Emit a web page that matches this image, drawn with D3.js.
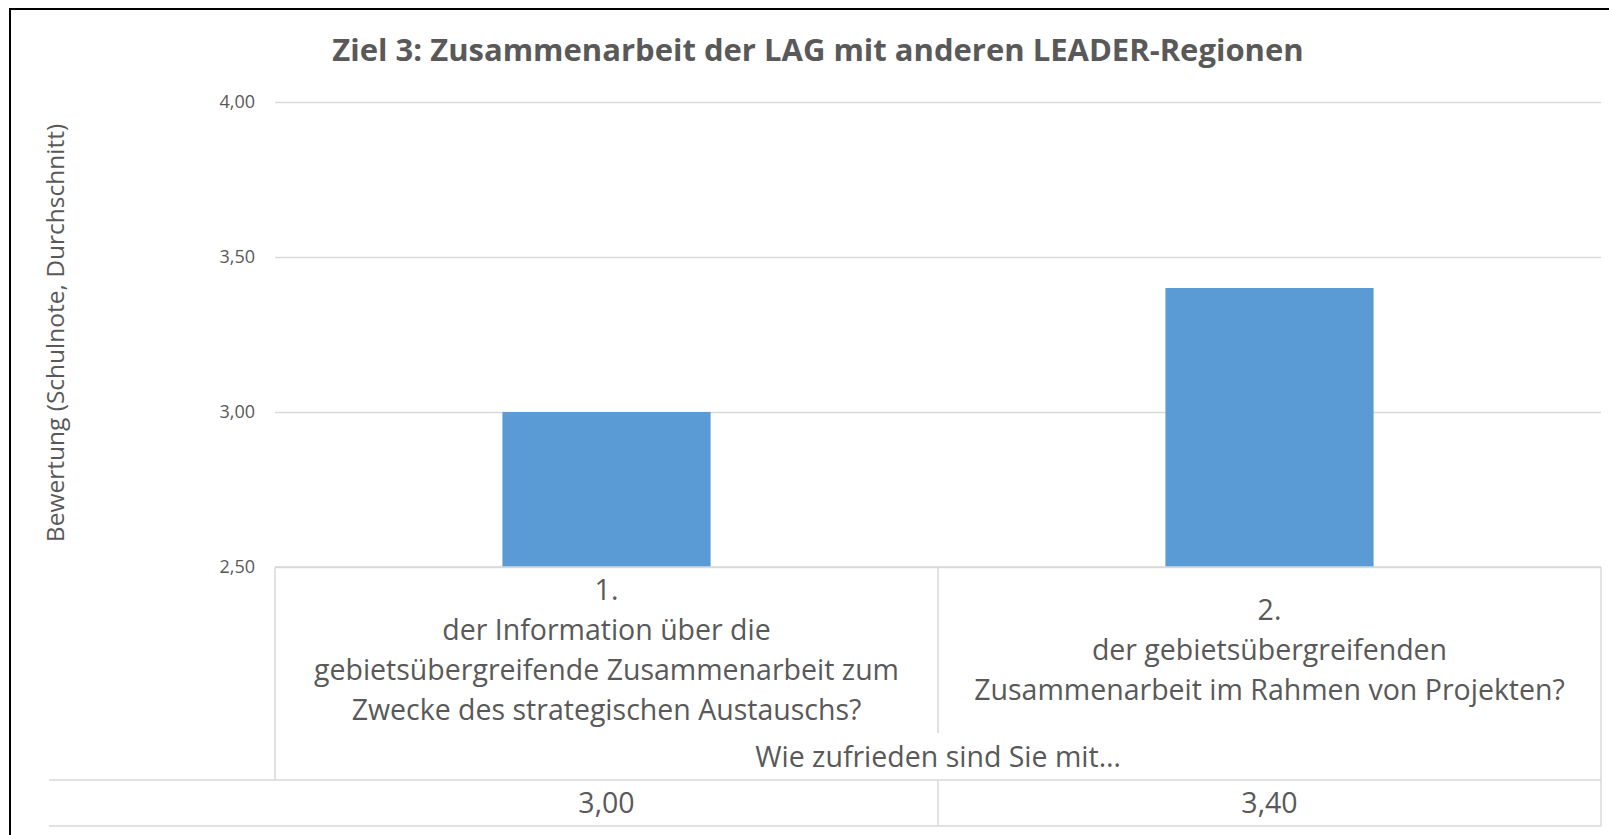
<!DOCTYPE html>
<html>
<head>
<meta charset="utf-8">
<script src="https://cdn.jsdelivr.net/npm/d3@7"></script>
<style>
  html, body { margin: 0; padding: 0; background: #fff; }
  svg { display: block; font-family: "Open Sans", sans-serif; }
</style>
</head>
<body>
<svg id="chart" width="1609" height="835"></svg>
<script>
// chart data
const chartTitle = "Ziel 3: Zusammenarbeit der LAG mit anderen LEADER-Regionen";
const yAxisTitle = "Bewertung (Schulnote, Durchschnitt)";
const groupTitle = "Wie zufrieden sind Sie mit\u2026";
const categories = ["1.", "2."];
const categoryLines = [
    ["1.", "der Information über die", "gebietsübergreifende Zusammenarbeit zum", "Zwecke des strategischen Austauschs?"],
    ["2.", "der gebietsübergreifenden", "Zusammenarbeit im Rahmen von Projekten?"]
];
const values = [3.00, 3.40];
const yTicks = [2.5, 3.0, 3.5, 4.0];

const textColor = "#595959", gridColor = "#d9d9d9", barColor = "#5b9bd5";

const svg = d3.select('#chart');
const plotLeft = 275, plotRight = 1601, plotTop = 102, plotBottom = 567;

// German number format (comma decimal)
const de = d3.formatLocale({ decimal: ",", thousands: ".", grouping: [3], currency: ["", " €"] });
const fmt = de.format(".2f");

const x = d3.scaleBand().domain(categories).range([plotLeft, plotRight]).padding(0);
const y = d3.scaleLinear().domain([2.5, 4]).range([plotBottom, plotTop]);
const barW = x.bandwidth() * 0.314;

// outer frame (left + top only, like the cropped screenshot)
svg.append('path').attr('d', 'M10,835 V9 H1609').attr('fill', 'none').attr('stroke', '#000').attr('stroke-width', 2);

// title
svg.append('text').attr('x', 818).attr('y', 61).attr('text-anchor', 'middle')
    .attr('font-size', 31).attr('font-weight', 700).attr('fill', textColor).text(chartTitle);

// y axis with gridlines
const yAxis = svg.append('g').attr('transform', `translate(${plotLeft},0)`)
    .call(d3.axisLeft(y).tickValues(yTicks).tickFormat(fmt).tickSize(-(plotRight - plotLeft)).tickPadding(20));
yAxis.select('.domain').remove();
yAxis.selectAll('.tick line').attr('stroke', gridColor).attr('stroke-width', 1.5);
yAxis.selectAll('.tick text').attr('fill', textColor).attr('font-size', 18).attr('font-family', '"Open Sans", sans-serif');

// y axis title
svg.append('text').attr('transform', 'translate(64,333) rotate(-90)')
    .attr('text-anchor', 'middle').attr('font-size', 24.5).attr('fill', textColor).text(yAxisTitle);

// bars
svg.selectAll('.bar').data(values).enter().append('rect')
    .attr('class', 'bar')
    .attr('x', (d, i) => x(categories[i]) + (x.bandwidth() - barW) / 2)
    .attr('y', d => y(d))
    .attr('width', barW)
    .attr('height', d => y(2.5) - y(d))
    .attr('fill', barColor);

// category / data table lines
const rowTop = 780, rowBottom = 826, labelBottom = 733;
const lines = [
    [plotLeft, plotBottom, plotRight, plotBottom],
    [49, rowTop, plotRight, rowTop],
    [49, rowBottom, plotRight, rowBottom],
    [plotLeft, plotBottom, plotLeft, rowTop],
    [plotRight, plotBottom, plotRight, rowBottom],
    [x(categories[1]), plotBottom, x(categories[1]), labelBottom],
    [x(categories[1]), rowTop, x(categories[1]), rowBottom]
];
svg.append('g').selectAll('line').data(lines).enter().append('line')
    .attr('x1', d => d[0]).attr('y1', d => d[1]).attr('x2', d => d[2]).attr('y2', d => d[3])
    .attr('stroke', gridColor).attr('stroke-width', 1.5);

// category labels, vertically centred in the label area
const lineH = 40, labelMid = 650;
categoryLines.forEach((ls, i) => {
    const cx = x(categories[i]) + x.bandwidth() / 2;
    const startY = labelMid - (ls.length - 1) * lineH / 2;
    svg.append('g').selectAll('text').data(ls).enter().append('text')
        .attr('x', cx).attr('y', (d, j) => startY + j * lineH).attr('dy', '0.35em')
        .attr('text-anchor', 'middle').attr('font-size', 28.5).attr('fill', textColor)
        .text(d => d);
});

// group label
svg.append('text').attr('x', (plotLeft + plotRight) / 2).attr('y', 757).attr('dy', '0.35em')
    .attr('text-anchor', 'middle').attr('font-size', 28.5).attr('fill', textColor).text(groupTitle);

// data table values
svg.selectAll('.val').data(values).enter().append('text')
    .attr('class', 'val')
    .attr('x', (d, i) => x(categories[i]) + x.bandwidth() / 2)
    .attr('y', 803).attr('dy', '0.35em')
    .attr('text-anchor', 'middle').attr('font-size', 28.5).attr('fill', textColor)
    .text(d => fmt(d));
</script>
</body>
</html>
